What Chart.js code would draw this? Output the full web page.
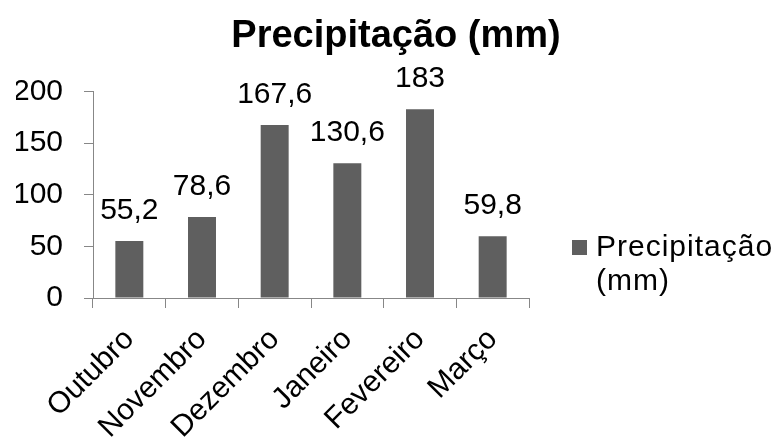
<!DOCTYPE html>
<html>
<head>
<meta charset="utf-8">
<script src="https://cdn.jsdelivr.net/npm/chart.js@4"></script>
<style>
  html, body { margin: 0; padding: 0; background: #ffffff; }
  #wrap { width: 776px; height: 446px; }
</style>
</head>
<body>
<div id="wrap"><canvas id="chart" width="776" height="446"></canvas></div>
<script>
// Monthly rainfall, October to March
const months = ['Outubro', 'Novembro', 'Dezembro', 'Janeiro', 'Fevereiro', 'Março'];
const precipitation = [55.2, 78.6, 167.6, 130.6, 183, 59.8];
const yTickValues = [0, 50, 100, 150, 200];
const seriesLabel = 'Precipitação (mm)';
const legendLines = ['Precipitação', '(mm)'];

const FONT = '"Liberation Sans", Arial, sans-serif';
const BAR_COLOR = '#5f5f5f';
const AXIS_COLOR = '#878787';

const fmt = v => String(v).replace('.', ',');

// Value labels above each bar
const valueLabels = {
  id: 'valueLabels',
  afterDatasetsDraw(chart) {
    const ctx = chart.ctx;
    const meta = chart.getDatasetMeta(0);
    const data = chart.data.datasets[0].data;
    ctx.save();
    ctx.font = '30px ' + FONT;
    ctx.fillStyle = '#000000';
    ctx.textAlign = 'center';
    ctx.textBaseline = 'alphabetic';
    meta.data.forEach((bar, i) => {
      ctx.fillText(fmt(data[i]), bar.x, bar.y - 22);
    });
    ctx.restore();
  }
};

// Legend block at the right, with the series name on two lines
const sideLegend = {
  id: 'sideLegend',
  afterDraw(chart) {
    const ctx = chart.ctx;
    const ds = chart.data.datasets[0];
    const x0 = chart.chartArea.right + 43;
    ctx.save();
    ctx.fillStyle = ds.backgroundColor;
    ctx.fillRect(x0, 240, 15, 15);
    ctx.font = '30px ' + FONT;
    ctx.letterSpacing = '1px';
    ctx.fillStyle = '#000000';
    ctx.textAlign = 'left';
    ctx.textBaseline = 'alphabetic';
    legendLines.forEach((line, i) => {
      ctx.fillText(line, x0 + 24, 256 + i * 34);
    });
    ctx.restore();
  }
};

new Chart(document.getElementById('chart'), {
  type: 'bar',
  data: {
    labels: months,
    datasets: [{
      label: seriesLabel,
      data: precipitation,
      backgroundColor: BAR_COLOR,
      borderWidth: 0,
      barPercentage: 0.385,
      categoryPercentage: 1.0
    }]
  },
  options: {
    responsive: false,
    animation: false,
    layout: { padding: { left: 16, right: 0, top: 0, bottom: 0 } },
    plugins: {
      legend: { display: false },
      tooltip: { enabled: false },
      title: {
        display: true,
        text: seriesLabel,
        color: '#000000',
        font: { family: FONT, size: 38, weight: 'bold', lineHeight: 1.2 },
        padding: { top: 14, bottom: 32 }
      }
    },
    scales: {
      x: {
        grid: { display: true, drawOnChartArea: false, drawTicks: true, tickLength: 10, color: AXIS_COLOR, offset: true },
        border: { display: true, color: AXIS_COLOR, width: 1 },
        ticks: {
          color: '#000000',
          font: { family: FONT, size: 30 },
          maxRotation: 45,
          minRotation: 45,
          autoSkip: false,
          padding: 14
        },
        afterFit(scale) { scale.height = 148; }
      },
      y: {
        min: 0,
        max: 200,
        afterBuildTicks(scale) { scale.ticks = yTickValues.map(v => ({ value: v })); },
        grid: { display: true, drawOnChartArea: false, drawTicks: true, tickLength: 9, color: AXIS_COLOR },
        border: { display: true, color: AXIS_COLOR, width: 1 },
        ticks: {
          color: '#000000',
          font: { family: FONT, size: 30 },
          padding: 21
        },
        afterFit(scale) { scale.width = 77; }
      },
      legendSpace: {
        type: 'linear',
        position: 'right',
        display: true,
        grid: { display: false, drawTicks: false },
        border: { display: false },
        ticks: { display: false },
        afterFit(scale) { scale.width = 247; }
      }
    }
  },
  plugins: [valueLabels, sideLegend]
});
</script>
</body>
</html>
